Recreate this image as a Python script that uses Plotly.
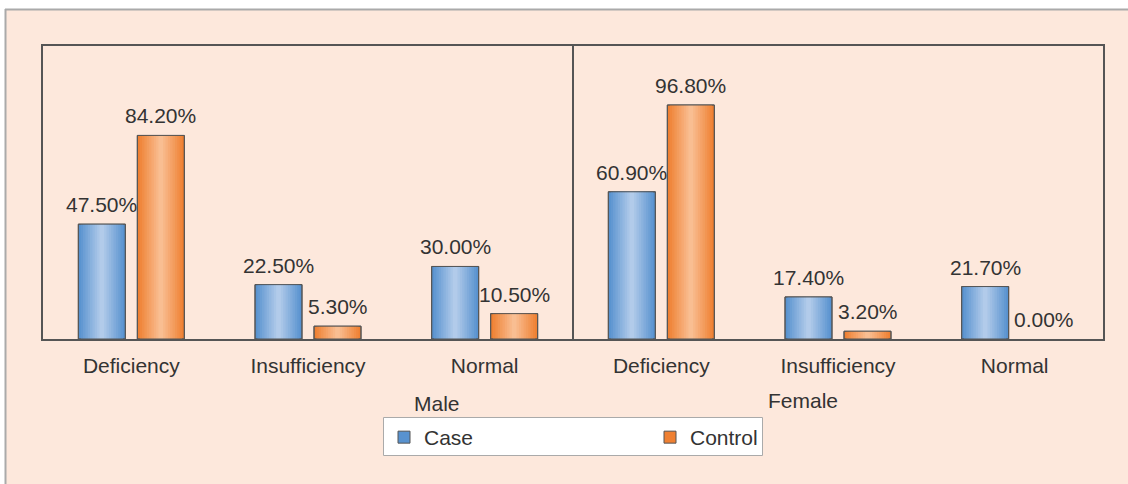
import plotly.graph_objects as go

categories = ["Deficiency", "Insufficiency", "Normal"]
groups = ["Male", "Female"]
case_male = [47.5, 22.5, 30.0]
control_male = [84.2, 5.3, 10.5]
case_female = [60.9, 17.4, 21.7]
control_female = [96.8, 3.2, 0.0]

case_vals = case_male + case_female
control_vals = control_male + control_female
tick_labels = categories + categories
pos = list(range(len(tick_labels)))

OFF = 0.167
W = 0.266
N = 10
FONT = "Liberation Sans, Arial, sans-serif"
FS = 21
TXT = "#333333"


def mix(a, b, t):
    return "rgb(%d,%d,%d)" % tuple(round(a[i] + (b[i] - a[i]) * t) for i in range(3))


series = [
    ("Case", case_vals, -OFF, (88, 146, 207), (178, 203, 234)),
    ("Control", control_vals, OFF, (239, 128, 50), (249, 190, 146)),
]

fig = go.Figure()
annotations = []
for name, vals, off, edge, center in series:
    xs = [p + off for p in pos]
    ys = [v if v != 0 else None for v in vals]
    for k in range(N):
        fig.add_trace(go.Bar(
            x=xs, y=ys, width=W * (N - k) / N,
            marker=dict(color=mix(edge, center, k / (N - 1)),
                        line=dict(width=1 if k == 0 else 0, color="#555555")),
            name=name, showlegend=(k == 0), legendgroup=name, hoverinfo="skip",
        ))
    fig.add_trace(go.Bar(
        x=xs, y=ys, width=W,
        marker=dict(color="rgba(0,0,0,0)", line=dict(width=1, color="#555555")),
        showlegend=False, legendgroup=name, hoverinfo="skip",
    ))
    for x, v in zip(xs, vals):
        annotations.append(dict(
            x=x, y=v, xref="x", yref="y", text="%.2f%%" % v, showarrow=False,
            xanchor="center", yanchor="bottom", yshift=6,
            font=dict(size=FS, color=TXT, family=FONT)))

L, R, T, B = 43, 25, 46, 145
Wd, Ht = 1128, 484
pw, ph = Wd - L - R, Ht - T - B


def px_x(sx):
    return (sx - L) / pw


def px_y(sy):
    return (Ht - B - sy) / ph


shapes = [
    dict(type="rect", xref="paper", yref="paper", x0=px_x(6), x1=px_x(1140),
         y0=px_y(495), y1=px_y(10), fillcolor="#fde8dc", line=dict(width=0), layer="below"),
    dict(type="line", xref="paper", yref="paper", x0=px_x(5), x1=px_x(1140),
         y0=px_y(9.5), y1=px_y(9.5), line=dict(color="#aaaaaa", width=2), layer="below"),
    dict(type="line", xref="paper", yref="paper", x0=px_x(5.5), x1=px_x(5.5),
         y0=px_y(495), y1=px_y(9), line=dict(color="#aaaaaa", width=2), layer="below"),
    dict(type="rect", xref="paper", yref="paper", x0=px_x(383.5), x1=px_x(762.5),
         y0=px_y(455.5), y1=px_y(417.5), fillcolor="white",
         line=dict(color="#aaaaaa", width=1), layer="below"),
    dict(type="line", xref="x", yref="paper", x0=2.5, x1=2.5, y0=0, y1=1,
         line=dict(color="#555555", width=2)),
]

annotations += [
    dict(text=groups[0], x=px_x(437), y=px_y(403), xref="paper", yref="paper",
         xanchor="center", yanchor="middle",
         showarrow=False, font=dict(size=FS, color=TXT, family=FONT)),
    dict(text=groups[1], x=px_x(803), y=px_y(400), xref="paper", yref="paper",
         xanchor="center", yanchor="middle",
         showarrow=False, font=dict(size=FS, color=TXT, family=FONT)),
]

fig.update_layout(
    width=Wd, height=Ht,
    margin=dict(l=L, r=R, t=T, b=B),
    barmode="overlay",
    paper_bgcolor="white", plot_bgcolor="white",
    shapes=shapes, annotations=annotations,
    font=dict(family=FONT, size=FS, color=TXT),
    legend=dict(orientation="h", x=px_x(384), y=px_y(417), xanchor="left", yanchor="top",
                bgcolor="rgba(0,0,0,0)", borderwidth=0,
                font=dict(size=FS, color=TXT, family=FONT),
                entrywidth=221, itemwidth=30),
    xaxis=dict(range=[-0.5, 5.5], tickvals=pos, ticktext=tick_labels,
               showline=True, mirror=True, linecolor="#555555", linewidth=1.5,
               ticks="outside", ticklen=7, tickcolor="rgba(0,0,0,0)",
               showgrid=False, zeroline=False, tickfont=dict(size=FS, color=TXT)),
    yaxis=dict(range=[0, 121.2], showticklabels=False, showgrid=False, zeroline=False,
               showline=True, mirror=True, linecolor="#555555", linewidth=1.5, ticks=""),
)

fig.write_html(
    "out.html",
    config={"displayModeBar": False},
    post_script="document.body.style.margin='0';document.body.style.overflow='hidden';",
)
